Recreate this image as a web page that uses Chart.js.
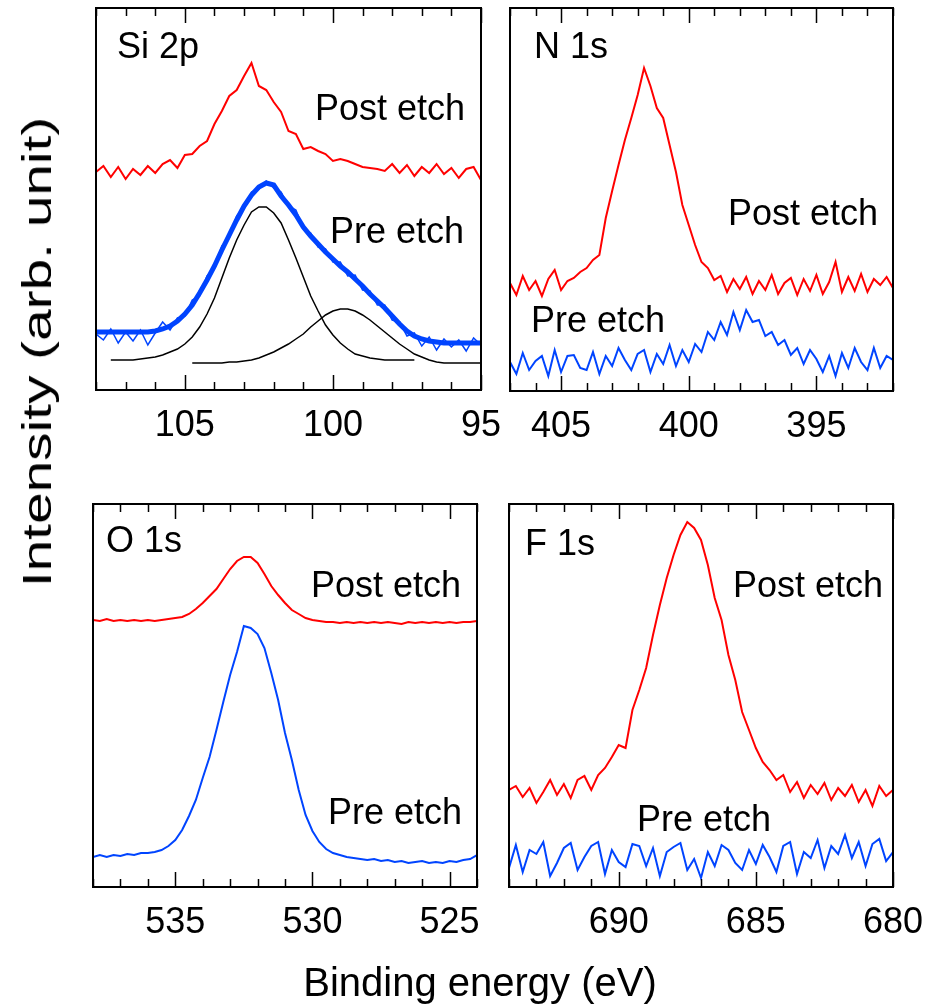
<!DOCTYPE html>
<html>
<head>
<meta charset="utf-8">
<script src="https://cdn.jsdelivr.net/npm/chart.js@4.4.1/dist/chart.umd.min.js"></script>
<style>
  body { margin: 0; background: #fff; }
  #wrap { position: relative; width: 936px; height: 1006px; overflow: hidden; }
  canvas { position: absolute; left: 0; top: 0; }
  .title { position: absolute; font-family: "Liberation Sans", Arial, sans-serif; font-size: 40px; line-height: 1; color: #000; white-space: nowrap; }
  #xtitle { left: 280px; width: 400px; top: 962px; text-align: center; }
  #ytitle { left: 37px; top: 352px; transform: translate(-50%, -50%) rotate(-90deg) scaleX(1.42); }
</style>
</head>
<body>
<div id="wrap">
  <canvas id="siChart" width="936" height="1006"></canvas>
  <canvas id="nChart" width="936" height="1006"></canvas>
  <canvas id="oChart" width="936" height="1006"></canvas>
  <canvas id="fChart" width="936" height="1006"></canvas>
  <div class="title" id="ytitle">Intensity (arb. unit)</div>
  <div class="title" id="xtitle">Binding energy (eV)</div>
</div>
<script>
// ---- Si 2p ----
const siEnergy = [108,107.75,107.5,107.25,107,106.75,106.5,106.25,106,105.75,105.5,105.25,105,104.75,104.5,104.25,104,103.75,103.5,103.25,103,102.75,102.5,102.25,102,101.75,101.5,101.25,101,100.75,100.5,100.25,100,99.75,99.5,99.25,99,98.75,98.5,98.25,98,97.75,97.5,97.25,97,96.75,96.5,96.25,96,95.75,95.5,95.25,95];
const siPost = [218,224,213,223,211,221,215,224,217,226,230,222,235,236,244,249,266,279,294,300,314,327,304,300,288,278,259,256,241,243,239,236,229,231,229,226,223,222,221,219,226,217,225,214,223,217,226,216,222,212,221,223,210];
const siPreData = [56,50,61,47,58,49,60,45,57,68,60,72,74,90,94,114,122,144,152,174,182,198,201,209,202,198,184,180,161,157,143,141,128,128,114,115,100,99,85,85,70,68,54,57,44,53,40,51,43,50,39,52,45];
const siPreFit = [58,58,58,58,58,58,58,58,59,61,64,69,76,85,97,110,124,140,155,170,184,195,203,207,205,194,185,175,163,154,146,138,131,124,118,111,104,96,89,82,74,66,59,54,51,49,48,47,47,47,47,47,47];
const siPeak1 = [null,null,30,30,30,30,31,32,33,35,38,41,46,53,63,76,92,112,132,150,165,178,183,183,177,167,150,132,113,94,79,65,55,47,41,36,34,32,31,30,30,30,30,30,null,null,null,null,null,null,null,null,null];
const siPeak2 = [null,null,null,null,null,null,null,null,null,null,null,null,null,27,27,27,27,27,28,28,29,30,32,35,38,42,46,51,56,63,69,75,79,81,81,79,75,70,64,58,52,46,41,36,33,30,28,27,27,27,27,27,27];
const siTicks = [105, 100, 95];

// ---- N 1s ----
const nEnergy = [407,406.75,406.5,406.25,406,405.75,405.5,405.25,405,404.75,404.5,404.25,404,403.75,403.5,403.25,403,402.75,402.5,402.25,402,401.75,401.5,401.25,401,400.75,400.5,400.25,400,399.75,399.5,399.25,399,398.75,398.5,398.25,398,397.75,397.5,397.25,397,396.75,396.5,396.25,396,395.75,395.5,395.25,395,394.75,394.5,394.25,394,393.75,393.5,393.25,393,392.75,392.5,392.25,392];
const nPost = [108,96,115,101,110,95,112,121,101,110,113,119,123,131,136,173,200,226,251,273,296,323,305,283,273,246,219,186,166,146,129,123,111,115,99,112,102,114,97,110,101,116,97,108,113,96,112,100,116,97,109,129,99,114,100,117,99,112,106,114,103];
const nPre = [29,17,38,21,30,35,15,41,19,35,36,23,21,39,17,35,25,43,31,21,37,41,19,37,27,46,25,41,29,47,39,59,51,69,56,79,61,81,69,71,55,59,46,51,36,43,27,41,32,19,35,15,38,23,43,29,21,43,23,35,31];
const nTicks = [405, 400, 395];

// ---- O 1s ----
const oEnergy = [538,537.75,537.5,537.25,537,536.75,536.5,536.25,536,535.75,535.5,535.25,535,534.75,534.5,534.25,534,533.75,533.5,533.25,533,532.75,532.5,532.25,532,531.75,531.5,531.25,531,530.75,530.5,530.25,530,529.75,529.5,529.25,529,528.75,528.5,528.25,528,527.75,527.5,527.25,527,526.75,526.5,526.25,526,525.75,525.5,525.25,525,524.75,524.5,524.25,524];
const oPost = [267,266,268,266,267,266,267,266,267,266,267,268,269,270,273,278,284,291,298,308,318,326,330,330,324,313,301,292,284,277,273,269,267,266,265,265,264,265,264,265,264,265,264,265,264,263,265,264,265,264,265,264,265,264,265,265,266];
const oPre = [30,32,30,32,31,33,32,34,34,35,37,41,47,57,71,87,109,130,157,185,212,235,261,259,253,239,214,187,154,127,97,72,56,45,38,34,32,30,29,28,27,28,26,27,25,26,24,25,26,24,25,24,26,25,27,28,32];
const oTicks = [535, 530, 525];

// ---- F 1s ----
const fEnergy = [694,693.75,693.5,693.25,693,692.75,692.5,692.25,692,691.75,691.5,691.25,691,690.75,690.5,690.25,690,689.75,689.5,689.25,689,688.75,688.5,688.25,688,687.75,687.5,687.25,687,686.75,686.5,686.25,686,685.75,685.5,685.25,685,684.75,684.5,684.25,684,683.75,683.5,683.25,683,682.75,682.5,682.25,682,681.75,681.5,681.25,681,680.75,680.5,680.25,680];
const fPost = [97,101,90,99,84,95,107,92,103,89,107,111,97,112,119,130,142,139,177,197,219,252,282,309,332,352,365,359,347,322,289,267,232,207,175,157,139,125,117,107,112,95,105,89,102,93,104,87,99,91,102,85,97,81,101,91,97];
const fPre = [19,42,15,37,33,45,11,24,39,44,17,30,41,45,13,37,25,20,43,41,21,39,11,35,40,44,17,28,9,35,21,42,37,24,17,37,23,42,30,15,41,45,13,35,29,47,19,41,33,52,29,45,21,43,48,26,35];
const fTicks = [690, 685, 680];

const W = 936, H = 1006;
const RED = '#ff0000';
const BLUE = '#0044ff';
const FONT = '"Liberation Sans", Arial, sans-serif';

// panel boxes are [left, top, right, bottom] in page pixels
const panels = [
  { id: 'siChart', box: [96, 8, 481, 390], min: 95, max: 108, yMax: 382, energy: siEnergy, ticks: siTicks,
    series: [[siPost, RED, 2], [siPeak1, '#000', 1.5], [siPeak2, '#000', 1.5], [siPreData, BLUE, 1.5], [siPreFit, BLUE, 5]],
    labels: [['Si 2p', 117, 58], ['Post etch', 315, 120], ['Pre etch', 330, 243]] },
  { id: 'nChart', box: [510, 8, 893, 391], min: 392, max: 407, yMax: 383, energy: nEnergy, ticks: nTicks,
    series: [[nPost, RED, 2], [nPre, BLUE, 2]],
    labels: [['N 1s', 534, 58], ['Post etch', 728, 225], ['Pre etch', 531, 332]] },
  { id: 'oChart', box: [93, 504, 477, 887], min: 524, max: 538, yMax: 383, energy: oEnergy, ticks: oTicks,
    series: [[oPost, RED, 2], [oPre, BLUE, 2]],
    labels: [['O 1s', 106, 552], ['Post etch', 311, 597], ['Pre etch', 328, 824]] },
  { id: 'fChart', box: [509, 504, 893, 887], min: 680, max: 694, yMax: 383, energy: fEnergy, ticks: fTicks,
    series: [[fPost, RED, 2], [fPre, BLUE, 2]],
    labels: [['F 1s', 525, 555], ['Post etch', 733, 597], ['Pre etch', 637, 831]] }
];

// box, inward ticks (top + bottom), tick labels and panel texts
function framePlugin(p) {
  return {
    id: 'frame',
    afterDraw(chart) {
      const { ctx, chartArea: a } = chart;
      const x = chart.scales.x;
      ctx.save();
      ctx.strokeStyle = '#000';
      ctx.lineWidth = 2;
      ctx.strokeRect(a.left, a.top, a.right - a.left, a.bottom - a.top);
      ctx.lineWidth = 1.5;
      for (let e = Math.ceil(x.min); e <= Math.floor(x.max); e++) {
        const px = Math.round(x.getPixelForValue(e)) + 0.5;
        const len = p.ticks.includes(e) ? 15 : 8;
        ctx.beginPath();
        ctx.moveTo(px, a.bottom);
        ctx.lineTo(px, a.bottom - len);
        ctx.moveTo(px, a.top);
        ctx.lineTo(px, a.top + len);
        ctx.stroke();
      }
      ctx.fillStyle = '#000';
      ctx.textBaseline = 'alphabetic';
      ctx.textAlign = 'center';
      ctx.font = '36px ' + FONT;
      p.ticks.forEach(t => ctx.fillText(String(t), x.getPixelForValue(t), a.bottom + 46));
      ctx.textAlign = 'left';
      ctx.font = '36px ' + FONT;
      p.labels.forEach(([txt, lx, ly]) => ctx.fillText(txt, lx, ly));
      ctx.restore();
    }
  };
}

panels.forEach(p => {
  const [l, t, r, b] = p.box;
  new Chart(document.getElementById(p.id), {
    type: 'line',
    data: {
      datasets: p.series.map(([vals, color, width]) => ({
        data: p.energy.map((e, i) => ({ x: e, y: vals[i] })),
        borderColor: color,
        borderWidth: width,
        pointRadius: 0,
        fill: false,
        tension: 0,
        spanGaps: false
      }))
    },
    options: {
      responsive: false,
      animation: false,
      events: [],
      layout: { padding: { left: l, top: t, right: W - r, bottom: H - b } },
      scales: {
        x: { type: 'linear', reverse: true, min: p.min, max: p.max, display: false },
        y: { type: 'linear', min: 0, max: p.yMax, display: false }
      },
      plugins: { legend: { display: false }, tooltip: { enabled: false } }
    },
    plugins: [framePlugin(p)]
  });
});
</script>
</body>
</html>
